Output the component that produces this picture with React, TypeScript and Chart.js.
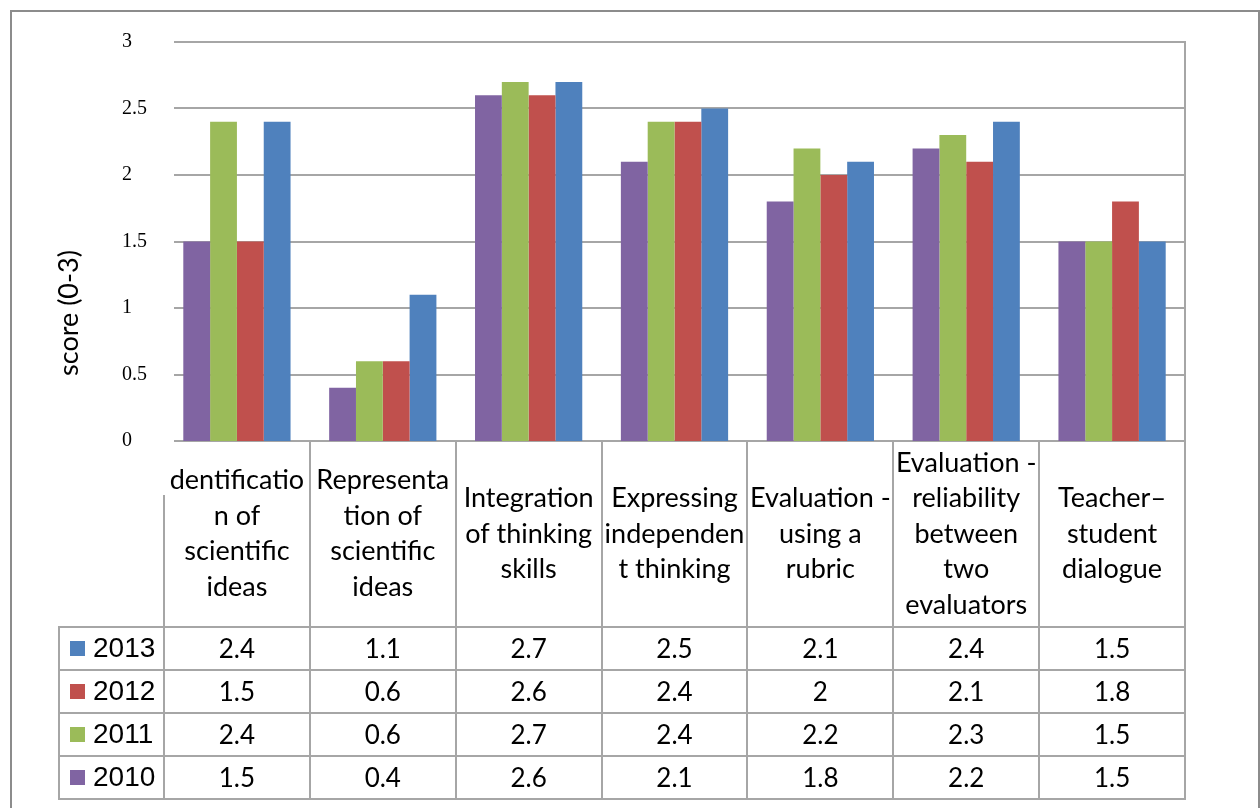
import React, { useEffect, useRef } from "react";
import { Chart, registerables } from "chart.js";

Chart.register(...registerables);

// ---- data ----
const categories: string[][] = [
  ["dentificatio", "n of", "scientific", "ideas"],
  ["Representa", "tion of", "scientific", "ideas"],
  ["Integration", "of thinking", "skills"],
  ["Expressing", "independen", "t thinking"],
  ["Evaluation -", "using a", "rubric"],
  ["Evaluation -", "reliability", "between", "two", "evaluators"],
  ["Teacher\u2013", "student", "dialogue"],
];

const seriesNames = ["2010", "2011", "2012", "2013"];
const values2010 = [1.5, 0.4, 2.6, 2.1, 1.8, 2.2, 1.5];
const values2011 = [2.4, 0.6, 2.7, 2.4, 2.2, 2.3, 1.5];
const values2012 = [1.5, 0.6, 2.6, 2.4, 2, 2.1, 1.8];
const values2013 = [2.4, 1.1, 2.7, 2.5, 2.1, 2.4, 1.5];
const seriesValues = [values2010, values2011, values2012, values2013];
const seriesColors = ["#8064A2", "#9BBB59", "#C0504D", "#4F81BD"];

// data table row order (top to bottom)
const tableRowOrder = [3, 2, 1, 0];

const yTickValues = [0, 0.5, 1, 1.5, 2, 2.5, 3];
const yTickLabels = ["0", "0.5", "1", "1.5", "2", "2.5", "3"];
const yTitle = "score (0-3)";

// ---- styles ----
const GRID = "#a6a6a6";
const FRAME = "#8c8c8c";
const LABEL_FONT = "Lato, 'Open Sans', sans-serif";

const tablePlugin = {
  id: "excelTable",
  beforeDraw(chart: any) {
    const { ctx, width, height } = chart;
    ctx.save();
    ctx.fillStyle = "#ffffff";
    ctx.fillRect(0, 0, width, height);
    ctx.strokeStyle = FRAME;
    ctx.lineWidth = 2;
    ctx.strokeRect(11, 11, width - 12, height + 40);
    ctx.restore();
  },
  beforeDatasetsDraw(chart: any) {
    const { ctx, chartArea } = chart;
    const y = chart.scales.y;
    ctx.save();
    ctx.strokeStyle = GRID;
    ctx.lineWidth = 2;
    y.ticks.forEach((t: any) => {
      const py = Math.round(y.getPixelForValue(t.value));
      ctx.beginPath();
      ctx.moveTo(chartArea.left + 10, py);
      ctx.lineTo(chartArea.right, py);
      ctx.stroke();
    });
    ctx.restore();
  },
  afterDraw(chart: any) {
    const { ctx, chartArea } = chart;
    const x = chart.scales.x;
    const rowH = 43;
    const tableTop = Math.round(x.bottom);
    const tableBottom = tableTop + rowH * tableRowOrder.length;
    const legendLeft = 59;
    const n = categories.length;

    ctx.save();
    ctx.strokeStyle = GRID;
    ctx.lineWidth = 2;
    const line = (x1: number, y1: number, x2: number, y2: number) => {
      ctx.beginPath();
      ctx.moveTo(x1, y1);
      ctx.lineTo(x2, y2);
      ctx.stroke();
    };
    // right border of plot + table
    const right = Math.round(chartArea.right);
    line(right, chartArea.top - 1, right, tableBottom + 1);
    // column boundaries
    for (let i = 0; i < n - 1; i++) {
      const bx = Math.round((x.getPixelForTick(i) + x.getPixelForTick(i + 1)) / 2);
      line(bx, chartArea.bottom, bx, tableBottom);
    }
    const lx = Math.round(x.left);
    line(lx, chartArea.bottom + 54, lx, tableBottom);
    // legend column left edge
    line(legendLeft, tableTop, legendLeft, tableBottom);
    // row lines
    for (let r = 0; r <= tableRowOrder.length; r++) {
      const ry = tableTop + r * rowH;
      line(legendLeft - 1, ry, right + 1, ry);
    }

    // rows
    tableRowOrder.forEach((si, r) => {
      const cy = tableTop + r * rowH + rowH / 2;
      ctx.fillStyle = seriesColors[si];
      ctx.fillRect(legendLeft + 11, Math.round(cy - 7.5), 15, 15);
      ctx.fillStyle = "#000";
      ctx.font = "28px 'Liberation Sans', Arial, sans-serif";
      ctx.textAlign = "left";
      ctx.textBaseline = "middle";
      ctx.fillText(seriesNames[si], legendLeft + 34, cy + 1);
      ctx.font = "26px " + LABEL_FONT;
      ctx.textAlign = "center";
      seriesValues[si].forEach((v, i) => {
        ctx.fillText(String(v), x.getPixelForTick(i), cy + 1);
      });
    });

    // y axis title
    ctx.translate(69, 313);
    ctx.rotate(-Math.PI / 2);
    ctx.fillStyle = "#000";
    ctx.font = "27px " + LABEL_FONT;
    ctx.textAlign = "center";
    ctx.textBaseline = "middle";
    ctx.fillText(yTitle, 0, 0);
    ctx.restore();
  },
};

export default function App() {
  const canvasRef = useRef<HTMLCanvasElement | null>(null);

  useEffect(() => {
    if (!canvasRef.current) return;
    const chart = new Chart(canvasRef.current, {
      type: "bar",
      data: {
        labels: categories,
        datasets: seriesNames.map((name, i) => ({
          label: name,
          data: seriesValues[i],
          backgroundColor: seriesColors[i],
          borderWidth: 0,
          categoryPercentage: 1 / 1.36,
          barPercentage: 1,
        })),
      },
      options: {
        animation: false,
        responsive: true,
        maintainAspectRatio: false,
        devicePixelRatio: 1,
        layout: { padding: { left: 122, right: 75, top: 42, bottom: 181 } },
        plugins: {
          legend: { display: false },
          tooltip: { enabled: false },
          title: { display: false },
        },
        scales: {
          x: {
            type: "category",
            grid: { display: false, drawTicks: false },
            border: { display: false },
            ticks: {
              color: "#000",
              font: { family: LABEL_FONT, size: 27, lineHeight: "35.5px" },
              crossAlign: "center",
              padding: 22,
              maxRotation: 0,
              minRotation: 0,
              autoSkip: false,
            },
            afterFit: (scale: any) => {
              scale.height = 186;
            },
          },
          y: {
            min: 0,
            max: 3,
            grid: { display: false, drawTicks: false },
            border: { display: false },
            ticks: {
              color: "#000",
              font: { family: "'Liberation Serif', 'Times New Roman', serif", size: 20 },
              crossAlign: "far",
              padding: 0,
              callback: (value: any) => {
                const idx = yTickValues.indexOf(Number(value));
                return idx >= 0 ? yTickLabels[idx] : String(value);
              },
            },
            afterBuildTicks: (scale: any) => {
              scale.ticks = yTickValues.map((v) => ({ value: v }));
            },
            afterFit: (scale: any) => {
              scale.width = 42;
            },
          },
        },
      },
      plugins: [tablePlugin],
    } as any);
    return () => chart.destroy();
  }, []);

  return (
    <div style={{ position: "absolute", left: 0, top: 0, width: 1260, height: 808 }}>
      <canvas ref={canvasRef} />
    </div>
  );
}
